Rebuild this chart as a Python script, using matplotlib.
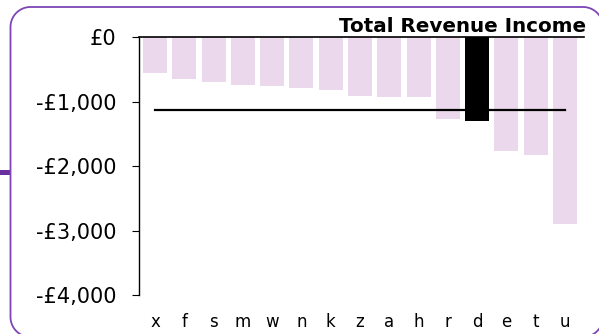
import numpy as np
import matplotlib.pyplot as plt
from matplotlib.patches import Rectangle
from matplotlib.lines import Line2D
from matplotlib.transforms import IdentityTransform

# revenue income per area, with the group average drawn across
labels = ['x', 'f', 's', 'm', 'w', 'n', 'k', 'z', 'a', 'h', 'r', 'd', 'e', 't', 'u']
income = [-560, -650, -690, -745, -760, -785, -815, -910, -920, -930,
          -1260, -1300, -1760, -1825, -2895]
average = -1135
highlight = 'd'

yticks = [0, -1000, -2000, -3000, -4000]
ytick_labels = ['£0', '-£1,000', '-£2,000', '-£3,000', '-£4,000']

fig = plt.figure(figsize=(5.99, 3.34), dpi=100)
ax = fig.add_axes([0.232, 0.117, 0.743, 0.771])

colors = ['black' if l == highlight else '#ebd8ec' for l in labels]
xs = range(len(labels))
ax.bar(xs, income, width=0.82, color=colors, zorder=2)
ax.plot([0, len(labels) - 1], [average, average], color='black', lw=1.6, zorder=3)

ax.set_xlim(-0.55, len(labels) - 0.35)
ax.set_ylim(-4000, 0)
ax.set_yticks(yticks)
ax.set_yticklabels(ytick_labels, fontsize=15)
ax.set_xticks(list(xs))
ax.set_xticklabels(labels, fontsize=12)
ax.tick_params(axis='x', length=0, pad=13)
ax.tick_params(axis='y', length=5, width=0.8, pad=11, direction='out')

ax.spines['right'].set_visible(False)
ax.spines['bottom'].set_visible(False)
ax.spines['top'].set_linewidth(1.2)
ax.spines['left'].set_linewidth(1.0)

fig.text(0.979, 0.893, 'Total Revenue Income', ha='right', va='bottom',
         fontsize=14.3, fontweight='bold')

# rounded purple frame as a polyline in pixels (right and bottom run off the edge)
left, right, top, bottom, r = 10.5, 603.0, 327.0, -3.0, 20.0
def arc(cx, cy, a0, a1):
    t = np.radians(np.linspace(a0, a1, 30))
    return list(cx + r * np.cos(t)), list(cy + r * np.sin(t))

fx, fy = [], []
for seg in [arc(right - r, top - r, 0, 90), arc(left + r, top - r, 90, 180),
            arc(left + r, bottom + r, 180, 270), arc(right - r, bottom + r, 270, 360)]:
    fx += seg[0]
    fy += seg[1]
fx.append(fx[0])
fy.append(fy[0])
fig.lines.append(Line2D(fx, fy, transform=IdentityTransform(),
                        color='#7d45b5', lw=1.3))
fig.patches.append(Rectangle((0, 159), 10.5, 5, transform=IdentityTransform(),
                             facecolor='#6a2f9e', edgecolor='none'))

fig.savefig('out.png', dpi=100)
